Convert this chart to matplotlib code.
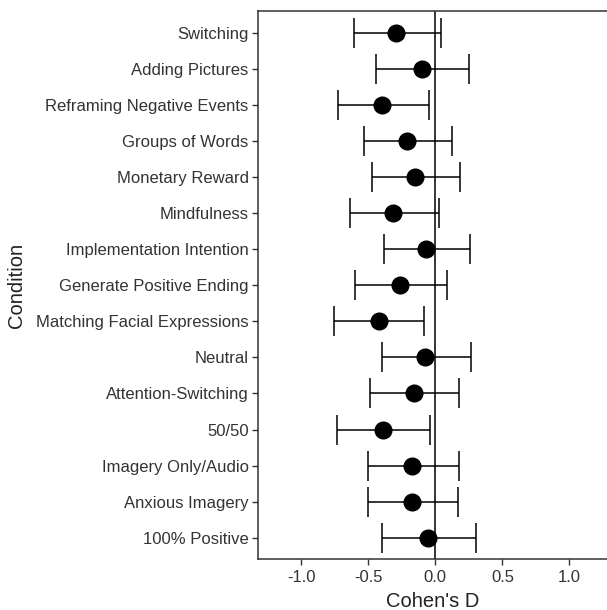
import numpy as np
import matplotlib.pyplot as plt

plt.rcParams['font.family'] = ['Liberation Sans', 'DejaVu Sans']

conditions = ['Switching', 'Adding Pictures', 'Reframing Negative Events',
              'Groups of Words', 'Monetary Reward', 'Mindfulness',
              'Implementation Intention', 'Generate Positive Ending',
              'Matching Facial Expressions', 'Neutral', 'Attention-Switching',
              '50/50', 'Imagery Only/Audio', 'Anxious Imagery', '100% Positive']
d = [-0.296, -0.100, -0.398, -0.212, -0.149, -0.316, -0.067, -0.266,
     -0.418, -0.078, -0.162, -0.391, -0.172, -0.172, -0.057]
lower = [-0.607, -0.443, -0.724, -0.535, -0.473, -0.640, -0.381, -0.600,
         -0.757, -0.400, -0.485, -0.734, -0.505, -0.505, -0.400]
upper = [0.040, 0.249, -0.050, 0.122, 0.186, 0.030, 0.258, 0.084,
         -0.082, 0.268, 0.176, -0.040, 0.176, 0.166, 0.300]

d = np.array(d)
err = [d - np.array(lower), np.array(upper) - d]
y = np.arange(len(conditions), 0, -1)

fig = plt.figure(figsize=(6.07, 6.10), dpi=100)
ax = fig.add_axes([0.4256, 0.0831, 0.5744, 0.8984])

ax.axvline(0, color='black', lw=1.1, zorder=1)
ax.errorbar(d, y, xerr=err, fmt='o', color='black', ms=12,
            capsize=11, elinewidth=1.1, capthick=1.1, zorder=2)

ax.set_xlim(-1.32, 1.28)
ax.set_ylim(0.4, 15.6)
ax.set_xticks([-1.0, -0.5, 0.0, 0.5, 1.0])
ax.set_xticklabels(['-1.0', '-0.5', '0.0', '0.5', '1.0'])
ax.set_yticks(y)
ax.set_yticklabels(conditions)
ax.tick_params(labelsize=12, labelcolor='#333333', color='#333333',
               length=4, width=1)
ax.tick_params(axis='y', pad=3)
ax.set_xlabel("Cohen's D", fontsize=14.5, color='#222222', labelpad=5)
ax.set_ylabel('Condition', fontsize=14.5, color='#222222', labelpad=7)

ax.spines['right'].set_visible(False)
for s in ['top', 'left', 'bottom']:
    ax.spines[s].set_color('#333333')
    ax.spines[s].set_linewidth(1.1)

fig.savefig('out.png', dpi=100)
